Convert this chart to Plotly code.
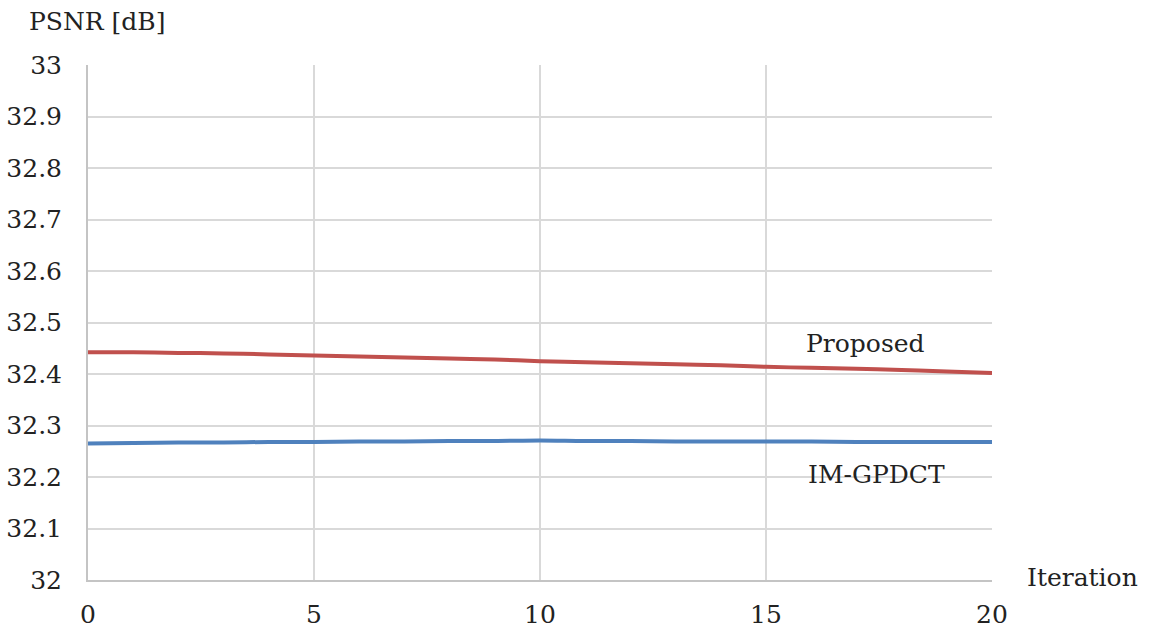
import plotly.graph_objects as go

# PSNR per iteration for the two methods
iterations = list(range(0, 21))
proposed_psnr = [32.442, 32.442, 32.441, 32.440, 32.438, 32.436, 32.434, 32.432,
                 32.430, 32.428, 32.425, 32.423, 32.421, 32.419, 32.417, 32.414,
                 32.412, 32.410, 32.408, 32.405, 32.402]
im_gpdct_psnr = [32.265, 32.266, 32.267, 32.267, 32.268, 32.268, 32.269, 32.269,
                 32.270, 32.270, 32.271, 32.270, 32.270, 32.269, 32.269, 32.269,
                 32.269, 32.268, 32.268, 32.268, 32.268]

x_ticks = [0, 5, 10, 15, 20]
y_ticks = [32, 32.1, 32.2, 32.3, 32.4, 32.5, 32.6, 32.7, 32.8, 32.9, 33]
y_tick_text = ["32", "32.1", "32.2", "32.3", "32.4", "32.5", "32.6", "32.7", "32.8", "32.9", "33"]

FONT = "DejaVu Serif"
FS = 25
TEXT_COLOR = "#222222"
GRID = "#d9d9d9"

fig = go.Figure()
fig.add_trace(go.Scatter(x=iterations, y=proposed_psnr, mode="lines", name="Proposed",
                         line=dict(color="#c0504d", width=4, shape="spline")))
fig.add_trace(go.Scatter(x=iterations, y=im_gpdct_psnr, mode="lines", name="IM-GPDCT",
                         line=dict(color="#4f81bd", width=4, shape="spline")))

# series labels placed next to the curves
fig.add_annotation(x=17.2, y=32.46, text="Proposed", showarrow=False,
                   xref="x", yref="y", font=dict(family=FONT, size=FS, color=TEXT_COLOR))
fig.add_annotation(x=17.45, y=32.204, text="IM-GPDCT", showarrow=False,
                   xref="x", yref="y", font=dict(family=FONT, size=FS, color=TEXT_COLOR))

# axis titles
fig.add_annotation(x=-0.068, y=1.084, xref="paper", yref="paper", text="PSNR [dB]",
                   showarrow=False, xanchor="left", yanchor="middle",
                   font=dict(family=FONT, size=FS, color=TEXT_COLOR))
fig.add_annotation(x=1.037, y=0.004, xref="paper", yref="paper", text="Iteration",
                   showarrow=False, xanchor="left", yanchor="middle",
                   font=dict(family=FONT, size=FS, color=TEXT_COLOR))

fig.update_layout(
    width=1161, height=636,
    margin=dict(l=88, r=169, t=65, b=56, autoexpand=False),
    paper_bgcolor="white", plot_bgcolor="white",
    showlegend=False,
    font=dict(family=FONT, size=FS, color=TEXT_COLOR),
    xaxis=dict(range=[0, 20], tickvals=x_ticks, showgrid=True, gridcolor=GRID, gridwidth=2,
               zeroline=False, showline=True, linecolor="#c4c4c4", linewidth=2,
               ticks="", ticklabelstandoff=11, automargin=False),
    yaxis=dict(range=[32, 33], tickvals=y_ticks, ticktext=y_tick_text, showgrid=True,
               gridcolor=GRID, gridwidth=2, zeroline=False, showline=True,
               linecolor="#c4c4c4", linewidth=2, ticks="", ticklabelstandoff=19,
               automargin=False),
)

fig.write_html("out.html")
